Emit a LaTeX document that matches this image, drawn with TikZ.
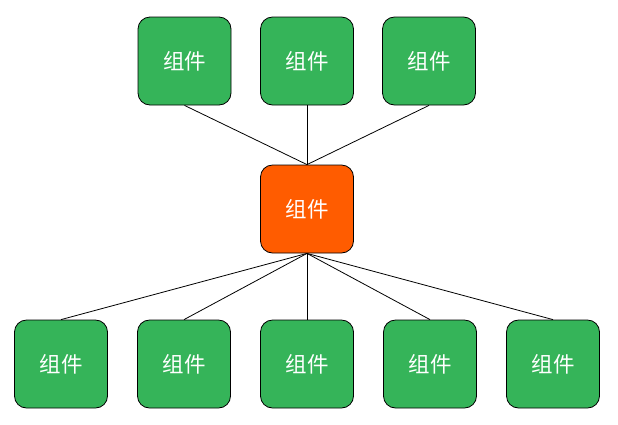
\documentclass[tikz,border=0pt]{standalone}
\usepackage{fontspec}
\newfontfamily\cjk{Noto Sans CJK SC}
\definecolor{boxgreen}{HTML}{35B459}
\definecolor{boxorange}{HTML}{FF5C00}
\tikzset{
  comp/.style={draw=black, line width=0.8pt, rounded corners=12pt, minimum width=93pt, minimum height=88pt, inner sep=0pt, fill=boxgreen, text=white, font=\cjk\fontsize{21.5pt}{24pt}\selectfont},
  hub/.style={comp, fill=boxorange},
  link/.style={draw=black, line width=0.8pt}
}
\begin{document}
\begin{tikzpicture}[x=1pt,y=-1pt]
\useasboundingbox (0,0) rectangle (618,424);
\fill[white] (0,0) rectangle (618,424);
\node[comp] (t1) at (184.5,61) {组件};
\node[comp] (t2) at (307,61) {组件};
\node[comp] (t3) at (429,61) {组件};
\node[hub] (m) at (307,209) {组件};
\node[comp] (b1) at (61,364) {组件};
\node[comp] (b2) at (184,364) {组件};
\node[comp] (b3) at (307,364) {组件};
\node[comp] (b4) at (430,364) {组件};
\node[comp] (b5) at (553,364) {组件};
\foreach \t in {t1,t2,t3} \draw[link] (\t.south) -- (m.north);
\foreach \b in {b1,b2,b3,b4,b5} \draw[link] (m.south) -- (\b.north);
\end{tikzpicture}
\end{document}
